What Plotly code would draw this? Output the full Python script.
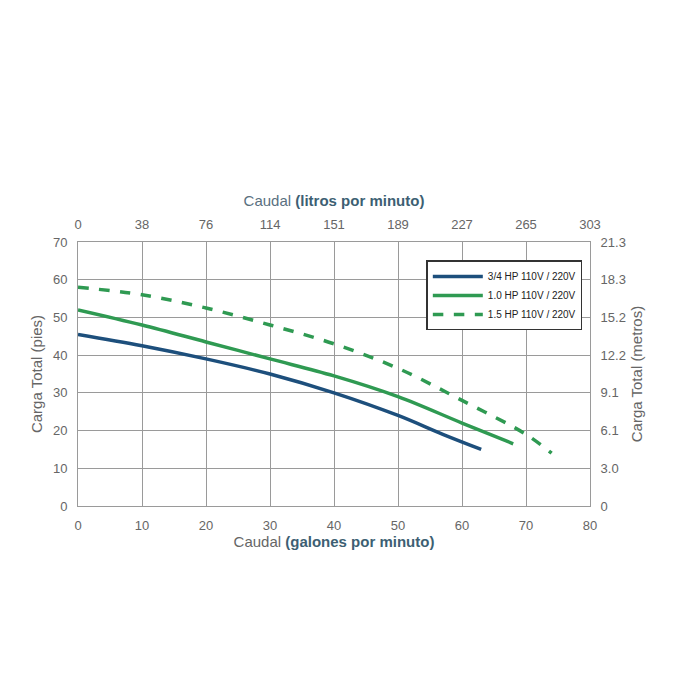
import plotly.graph_objects as go

gpm_34 = [0, 10, 20, 30, 40, 50, 57, 63]
ft_34 = [45.5, 42.5, 39, 35, 30, 24, 19, 15]
gpm_10 = [0, 10, 20, 30, 40, 50, 60, 68]
ft_10 = [52, 48, 43.5, 39, 34.5, 29, 22, 16.5]
gpm_15 = [0, 10, 20, 30, 40, 50, 60, 70, 74]
ft_15 = [58, 56, 52.5, 48, 43, 36.5, 28, 19, 14]

lpm_labels = ["0", "38", "76", "114", "151", "189", "227", "265", "303"]
m_labels = ["0", "3.0", "6.1", "9.1", "12.2", "15.2", "18.3", "21.3"]

blue = "#1d4f7c"
green = "#2f9a52"
gray = "#666666"

fig = go.Figure()
fig.add_trace(go.Scatter(x=gpm_34, y=ft_34, mode="lines", name="3/4 HP 110V / 220V",
                         line=dict(color=blue, width=3.5, shape="spline")))
fig.add_trace(go.Scatter(x=gpm_10, y=ft_10, mode="lines", name="1.0 HP 110V / 220V",
                         line=dict(color=green, width=3.5, shape="spline")))
fig.add_trace(go.Scatter(x=gpm_15, y=ft_15, mode="lines", name="1.5 HP 110V / 220V",
                         line=dict(color=green, width=3.5, dash="dash", shape="spline")))
# dummy trace so the secondary axes show
fig.add_trace(go.Scatter(x=[0], y=[0], xaxis="x2", yaxis="y2", showlegend=False,
                         mode="markers", marker=dict(opacity=0), hoverinfo="skip"))

tick = dict(ticks="outside", ticklen=7, tickcolor="rgba(0,0,0,0)", automargin=False,
            tickfont=dict(color=gray, size=13, family="Liberation Sans"))
grid = dict(showgrid=True, gridcolor="#9a9a9a", gridwidth=1, zeroline=False,
            showline=True, linecolor="#9a9a9a", mirror=True, **tick)
fig.update_layout(
    width=700, height=700, plot_bgcolor="white", paper_bgcolor="white",
    margin=dict(l=70, r=118, t=234, b=202),
    font=dict(family="Liberation Sans", color=gray),
    xaxis=dict(range=[0, 80], dtick=10, **grid,
               title=dict(text="Caudal <b style='color:#3d5f73'>(galones por minuto)</b>",
                          font=dict(size=15, color=gray), standoff=2)),
    yaxis=dict(range=[0, 70], dtick=10, **grid,
               title=dict(text="Carga Total (pies)", font=dict(size=15, color=gray), standoff=6)),
    xaxis2=dict(range=[0, 80], overlaying="x", side="top", tickvals=list(range(0, 81, 10)),
                ticktext=lpm_labels, showgrid=False, zeroline=False, **tick,
                title=dict(text="<span style='color:#5a7080'>Caudal</span> <b style='color:#3d5f73'>(litros por minuto)</b>",
                           font=dict(size=15), standoff=6)),
    yaxis2=dict(range=[0, 70], overlaying="y", side="right", tickvals=list(range(0, 71, 10)),
                ticktext=m_labels, showgrid=False, zeroline=False, **tick,
                title=dict(text="Carga Total (metros)", font=dict(size=15, color=gray), standoff=6)),
    legend=dict(x=0.985, y=0.93, xanchor="right", yanchor="top", bgcolor="white",
                bordercolor="#333333", borderwidth=1.5,
                font=dict(size=10, color="#222222", family="Liberation Sans"),
                itemwidth=50, tracegroupgap=4),
)
fig.write_html("out.html")
